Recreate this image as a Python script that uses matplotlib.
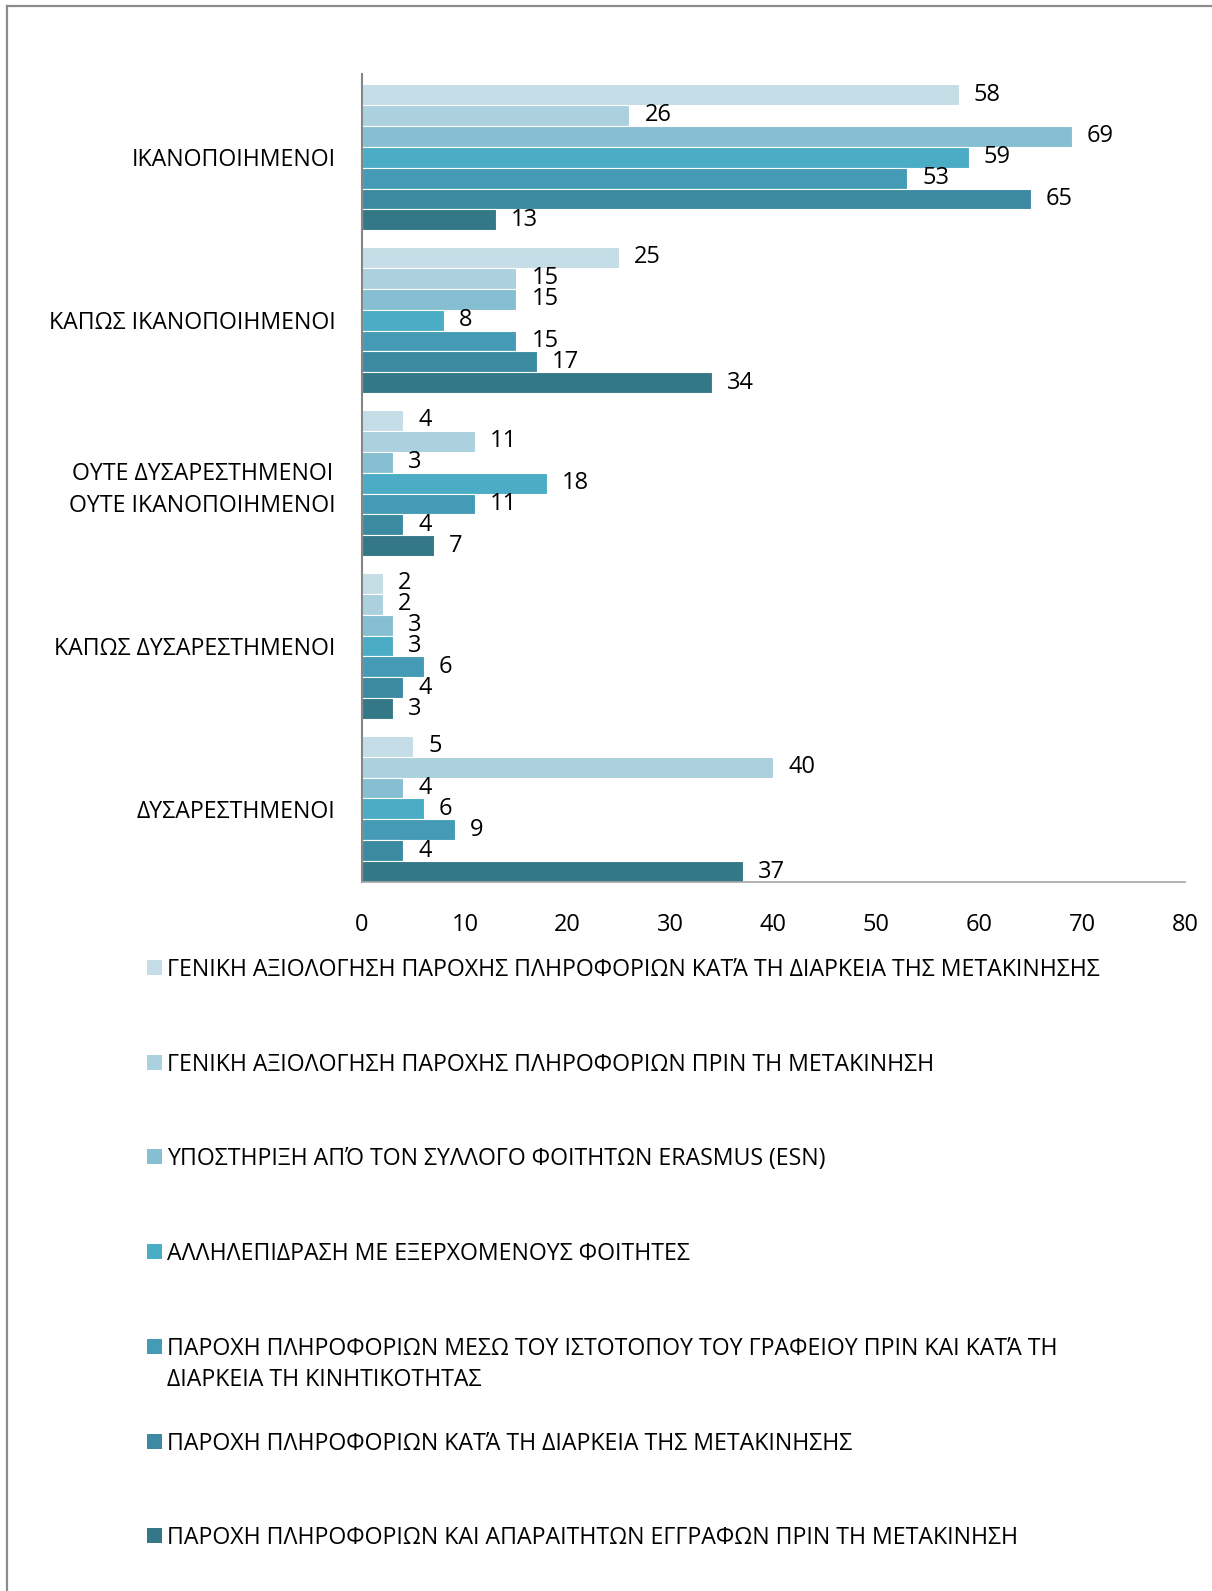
import matplotlib.pyplot as plt
from matplotlib.lines import Line2D
from matplotlib.patches import Rectangle

plt.rcParams['font.family'] = ['Open Sans', 'DejaVu Sans']

categories = [
    "ΙΚΑΝΟΠΟΙΗΜΕΝΟΙ",
    "ΚΑΠΩΣ ΙΚΑΝΟΠΟΙΗΜΕΝΟΙ",
    "ΟΥΤΕ ΔΥΣΑΡΕΣΤΗΜΕΝΟΙ\nΟΥΤΕ ΙΚΑΝΟΠΟΙΗΜΕΝΟΙ",
    "ΚΑΠΩΣ ΔΥΣΑΡΕΣΤΗΜΕΝΟΙ",
    "ΔΥΣΑΡΕΣΤΗΜΕΝΟΙ",
]

series_names = [
    "ΓΕΝΙΚΗ ΑΞΙΟΛΟΓΗΣΗ ΠΑΡΟΧΗΣ ΠΛΗΡΟΦΟΡΙΩΝ ΚΑΤΆ ΤΗ ΔΙΑΡΚΕΙΑ ΤΗΣ ΜΕΤΑΚΙΝΗΣΗΣ",
    "ΓΕΝΙΚΗ ΑΞΙΟΛΟΓΗΣΗ ΠΑΡΟΧΗΣ ΠΛΗΡΟΦΟΡΙΩΝ ΠΡΙΝ ΤΗ ΜΕΤΑΚΙΝΗΣΗ",
    "ΥΠΟΣΤΗΡΙΞΗ ΑΠΌ ΤΟΝ ΣΥΛΛΟΓΟ ΦΟΙΤΗΤΩΝ ERASMUS (ESN)",
    "ΑΛΛΗΛΕΠΙΔΡΑΣΗ ΜΕ ΕΞΕΡΧΟΜΕΝΟΥΣ ΦΟΙΤΗΤΕΣ",
    "ΠΑΡΟΧΗ ΠΛΗΡΟΦΟΡΙΩΝ ΜΕΣΩ ΤΟΥ ΙΣΤΟΤΟΠΟΥ ΤΟΥ ΓΡΑΦΕΙΟΥ ΠΡΙΝ ΚΑΙ ΚΑΤΆ ΤΗ\nΔΙΑΡΚΕΙΑ ΤΗ ΚΙΝΗΤΙΚΟΤΗΤΑΣ",
    "ΠΑΡΟΧΗ ΠΛΗΡΟΦΟΡΙΩΝ ΚΑΤΆ ΤΗ ΔΙΑΡΚΕΙΑ ΤΗΣ ΜΕΤΑΚΙΝΗΣΗΣ",
    "ΠΑΡΟΧΗ ΠΛΗΡΟΦΟΡΙΩΝ ΚΑΙ ΑΠΑΡΑΙΤΗΤΩΝ ΕΓΓΡΑΦΩΝ ΠΡΙΝ ΤΗ ΜΕΤΑΚΙΝΗΣΗ",
]

# one list per series, values in category order
gen_during = [58, 25, 4, 2, 5]
gen_before = [26, 15, 11, 2, 40]
esn_support = [69, 15, 3, 3, 4]
outgoing = [59, 8, 18, 3, 6]
website = [53, 15, 11, 6, 9]
info_during = [65, 17, 4, 4, 4]
docs_before = [13, 34, 7, 3, 37]
series_values = [gen_during, gen_before, esn_support, outgoing, website, info_during, docs_before]

colors = ["#c5dde6", "#abd0de", "#86bfd2", "#4bacc6", "#459bb5", "#3c8aa1", "#347888"]

fig = plt.figure(figsize=(12.12, 15.91), dpi=100)
ax = fig.add_axes([0.2987, 0.4456, 0.6790, 0.5079])

n = len(series_values)
h = 0.898 / n
for j, (vals, col) in enumerate(zip(series_values, colors)):
    ys = [i - 0.449 + h / 2 + j * h for i in range(len(categories))]
    bars = ax.barh(ys, vals, height=h, color=col, edgecolor="white", linewidth=0.8)
    for rect, v in zip(bars, vals):
        ax.annotate(str(v), (rect.get_width(), rect.get_y() + rect.get_height() / 2),
                    xytext=(15, 0), textcoords="offset pixels",
                    ha="left", va="center", fontsize=17, color="black")

ax.set_ylim(4.449, -0.511)
ax.set_xlim(0, 80)
ax.set_xticks(range(0, 81, 10))
ax.set_yticks(range(len(categories)))
ax.set_yticklabels(categories, multialignment="center", linespacing=1.45)
ax.tick_params(axis="x", length=0, pad=22, labelsize=17)
ax.tick_params(axis="y", length=0, pad=19, labelsize=16.7)
for s in ["top", "right"]:
    ax.spines[s].set_visible(False)
ax.spines["left"].set_color("#868686")
ax.spines["left"].set_linewidth(1.5)
ax.spines["bottom"].set_color("#a6a6a6")
ax.spines["bottom"].set_linewidth(1.2)

# legend drawn by hand, one row per series
W, H = 1212, 1591
row_y = [967, 1062, 1156, 1251, 1346, 1441, 1535]
for name, col, y in zip(series_names, colors, row_y):
    fig.add_artist(Rectangle((147 / W, (H - y - 8) / H), 15 / W, 15 / H,
                             transform=fig.transFigure, facecolor=col, edgecolor="none"))
    for k, line in enumerate(name.split("\n")):
        fig.text(167 / W, (H - y - 9 - k * 31.5) / H, line, ha="left", va="baseline",
                 fontsize=16.7, color="black")

# page border (left and top)
fig.add_artist(Line2D([7 / W, 7 / W], [0, (H - 6) / H], color="#8c8c8c", lw=1.6,
                      transform=fig.transFigure))
fig.add_artist(Line2D([7 / W, 1], [(H - 6) / H, (H - 6) / H], color="#8c8c8c", lw=1.6,
                      transform=fig.transFigure))

fig.savefig("out.png", dpi=100)
